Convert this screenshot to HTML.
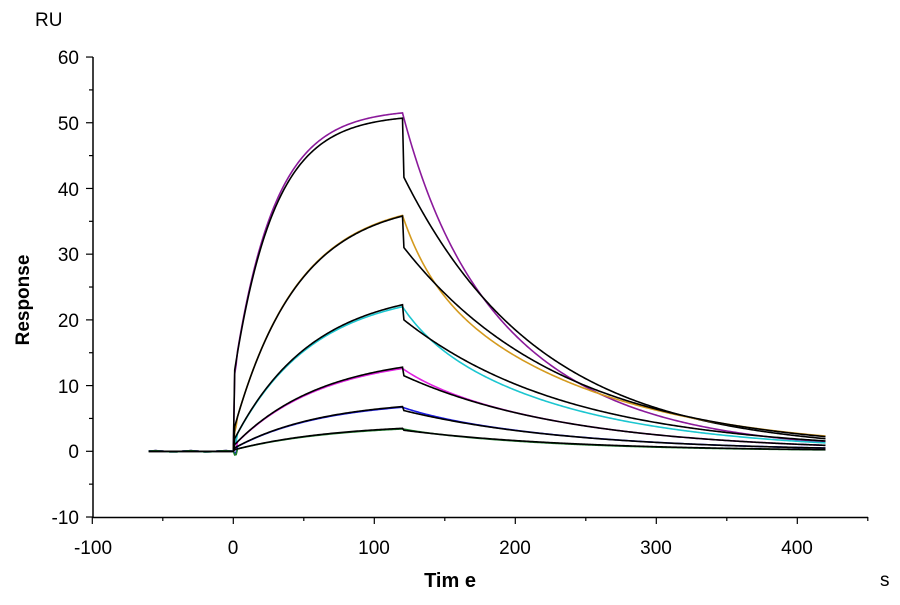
<!DOCTYPE html><html><head><style>body{margin:0;background:#fff}svg{font-family:"Liberation Sans",Arial,sans-serif}</style></head><body>
<svg id="s" width="900" height="600" xmlns="http://www.w3.org/2000/svg">
<rect width="900" height="600" fill="#fff"/>
<g stroke="#000" stroke-width="1.5" fill="none">
<line x1="93" y1="57" x2="93" y2="518"/>
<line x1="93" y1="517.5" x2="868" y2="517.5"/>
</g>
<g font-size="19" fill="#000" text-anchor="end">
<text x="79" y="64">60</text><text x="79" y="130">50</text><text x="79" y="196">40</text><text x="79" y="261">30</text><text x="79" y="327">20</text><text x="79" y="393">10</text><text x="79" y="458">0</text><text x="79" y="524">-10</text>
</g>
<g font-size="19" fill="#000" text-anchor="middle">
<text x="93" y="554">-100</text><text x="233" y="554">0</text><text x="374" y="554">100</text><text x="515" y="554">200</text><text x="656" y="554">300</text><text x="797" y="554">400</text>
</g>
<text x="35" y="26" font-size="19">RU</text>
<text x="450" y="587" font-size="20" font-weight="bold" text-anchor="middle">Tim e</text>
<text x="880" y="586" font-size="19">s</text>
<text transform="translate(29,300) rotate(-90)" font-size="19" font-weight="bold" text-anchor="middle">Response</text>
<g id="ticks" stroke="#000" stroke-width="1.2"></g>
<g id="curves" fill="none" stroke-width="1.6"></g>
</svg>
<script>
var X=function(t){return 233.3+t*1.41},Y=function(v){return 451.3-v*6.571};
var tk='';
for(var v=-10;v<=60;v+=5){var maj=v%10==0;tk+='<line x1="'+(maj?86:89)+'" y1="'+Y(v)+'" x2="93" y2="'+Y(v)+'"/>';}
for(var t=-100;t<=450;t+=50){var maj=t%100==0;tk+='<line x1="'+X(t)+'" y1="517" x2="'+X(t)+'" y2="'+(maj?524:521)+'"/>';}
document.getElementById('ticks').innerHTML=tk;
// [R120, jump, k, dropTo, kd, color, colR120, fastAmp, fastK, slowK]
var S=[[50.7,11,0.035,41.7,0.0103,'#8b1a9b',51.5,8,0.04,0.0115],
[35.8,3,0.022,31,0.0088,'#d49a1e',35.9,8,0.05,0.0083],
[22.3,1.5,0.018,20,0.0085,'#1cc6d0',22.0,3,0.05,0.009],
[12.8,0.8,0.016,11.5,0.0085,'#e020e0',12.6,1,0.05,0.0085],
[6.8,0.4,0.016,6.2,0.0085,'#1a1ae0',6.7,0.4,0.05,0.0085],
[3.5,0.2,0.014,3.2,0.0085,'#1a7a2a',3.4,0.2,0.05,0.009]];
var out='';
S.forEach(function(s){
 var R=s[0],j=s[1],k=s[2];var A=(R-j)/(1-Math.exp(-k*120));
 var col=[],blk=[];
 for(var t=-60;t<=0;t+=5){col.push(X(t)+','+Y(0.1*Math.sin(t)));blk.push(X(t)+','+Y(0));}
 for(var t=1;t<=120;t+=1){var v=j+A*(1-Math.exp(-k*t));blk.push(X(t)+','+Y(v));
   var c=(s[6]/R)*v+(t<3?-0.8:0);col.push(X(t)+','+Y(c));}
 for(var t=121;t<=420;t+=1){var d=t-120;blk.push(X(t)+','+Y(s[3]*Math.exp(-s[4]*(t-121))));
   col.push(X(t)+','+Y(s[7]*Math.exp(-s[8]*d)+(s[6]-s[7])*Math.exp(-s[9]*d)));}
 out+='<polyline stroke="'+s[5]+'" points="'+col.join(' ')+'"/>';
 out+='<polyline stroke="#000" points="'+blk.join(' ')+'"/>';
});
document.getElementById('curves').innerHTML=out;
</script>
</body></html>
